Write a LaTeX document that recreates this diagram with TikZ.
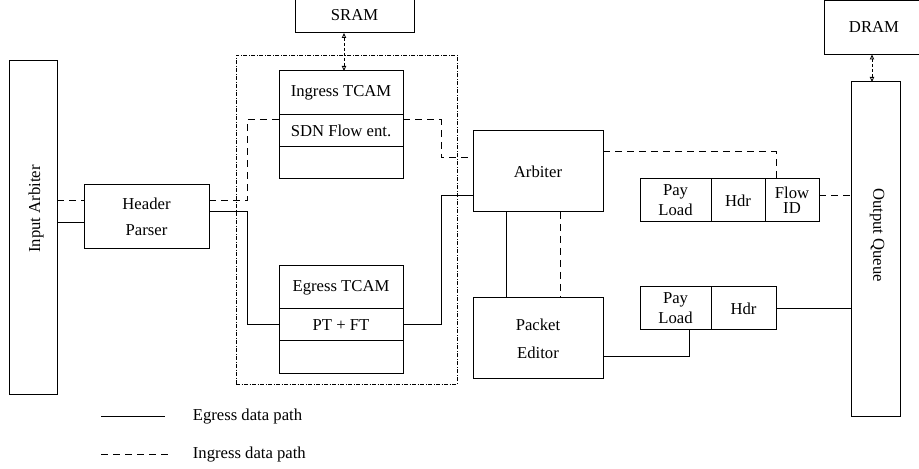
\documentclass[tikz,border=0pt]{standalone}
\usepackage{fontspec}
\setmainfont{Liberation Serif}
\usetikzlibrary{positioning, arrows.meta}

\begin{document}
\begin{tikzpicture}
[
    x=0.6pt, y=-0.6pt, font=\fontsize{10}{12}\selectfont,
    box_node/.style 2 args={rectangle, draw=black, line width=0.6pt, inner sep=0pt, outer sep=0pt, minimum width=#1*0.6pt, minimum height=#2*0.6pt, align=center},
    egress_line/.style={line width=0.6pt, color=black},
    ingress_line/.style={line width=0.6pt, color=black, dash pattern=on 4.2pt off 3pt},
    mem_line/.style={line width=0.5pt, color=black, dash pattern=on 1.8pt off 1.2pt, {Triangle[open, length=3pt, width=2.6pt]}-{Triangle[open, length=3pt, width=2.6pt]}},
    block_frame/.style={draw=black, line width=0.4pt, dash pattern=on 2.4pt off 1pt on 0.4pt off 1pt},
]
    \useasboundingbox (0,0) rectangle (919,469) ;
    \node[block_frame, inner sep=0pt, outer sep=0pt, minimum width=221*0.6pt, minimum height=329*0.6pt, anchor=north west] (lookup) at (236,55) {} ;
    \node[box_node={119}{35}, anchor=north west] (sram) at (295,-2) {SRAM} ;
    \node[box_node={100}{54}, anchor=north west] (dram) at (824,0.5) {DRAM} ;
    \node[box_node={48}{334}, anchor=north west] (inarb) at (9,61) {} ;
    \node[rotate=90] (inarb_text) at (36,209) {Input Arbiter} ;
    \node[box_node={125}{64}, anchor=north west] (hp) at (84,185) {Header\\[3.6pt]Parser} ;
    \node[box_node={124}{44}, anchor=north west] (it1) at (279,71) {Ingress TCAM} ;
    \node[box_node={124}{32}] (it2) [below = 0pt of it1] {SDN Flow ent.} ;
    \node[box_node={124}{32}] (it3) [below = 0pt of it2] {} ;
    \node[box_node={124}{43}, anchor=north west] (et1) at (279,266) {Egress TCAM} ;
    \node[box_node={124}{32}] (et2) [below = 0pt of et1] {PT + FT} ;
    \node[box_node={124}{33}] (et3) [below = 0pt of et2] {} ;
    \node[box_node={130}{81}, anchor=north west] (arb) at (473,131) {Arbiter} ;
    \node[box_node={130}{81}, anchor=north west] (pe) at (473,298) {Packet\\[4.8pt]Editor} ;
    \node[box_node={71}{43}, anchor=north west] (p1a) at (640,179) {Pay\\Load} ;
    \node[box_node={54}{43}] (p1b) [right = 0pt of p1a] {Hdr} ;
    \node[box_node={54}{43}, font=\fontsize{10}{9}\selectfont] (p1c) [right = 0pt of p1b] {Flow\\ID} ;
    \node[box_node={71}{43}, anchor=north west] (p2a) at (640,287) {Pay\\Load} ;
    \node[box_node={65}{43}] (p2b) [right = 0pt of p2a] {Hdr} ;
    \node[box_node={49}{335}, anchor=north west] (oq) at (851,82) {} ;
    \node[rotate=-90] (oq_text) at (877,235) {Output Queue} ;
    \draw[mem_line] (sram.south -| 344,0) -- (it1.north -| 344,0) ;
    \draw[mem_line] (dram.south -| 872,0) -- (oq.north -| 872,0) ;
    \draw[ingress_line] (inarb.east |- 0,201) -- (hp.west |- 0,201) ;
    \draw[egress_line] (inarb.east |- 0,223) -- (hp.west |- 0,223) ;
    \draw[ingress_line] (hp.east |- 0,201) -| (247,120) -- (it1.west |- 0,120) ;
    \draw[ingress_line] (it1.east |- 0,120) -| (441,158) -- (arb.west |- 0,158) ;
    \draw[egress_line] (hp.east |- 0,212) -| (247,325) -- (et2.west |- 0,325) ;
    \draw[egress_line] (et2.east |- 0,325) -| (441,196) -- (arb.west |- 0,196) ;
    \draw[egress_line] (arb.south -| 506,0) -- (pe.north -| 506,0) ;
    \draw[ingress_line] (arb.south -| 560,0) -- (pe.north -| 560,0) ;
    \draw[ingress_line] (arb.east |- 0,152) -| (p1c.north -| 776,0) ;
    \draw[ingress_line] (p1c.east |- 0,196) -- (oq.west |- 0,196) ;
    \draw[egress_line] (pe.east |- 0,357) -| (p2a.south -| 689,0) ;
    \draw[egress_line] (p2b.east) -- (oq.west |- p2b.east) ;
    \coordinate (key_egress) at (101,417) ;
    \coordinate (key_ingress) at (101,455) ;
    \draw[egress_line] (key_egress) -- ++(64,0) ;
    \draw[ingress_line] (key_ingress) -- ++(71,0) ;
    \node[anchor=west] (key_egress_text) at (187,417) {Egress data path} ;
    \node[anchor=west] (key_ingress_text) at (187,455) {Ingress data path} ;
\end{tikzpicture}
\end{document}
